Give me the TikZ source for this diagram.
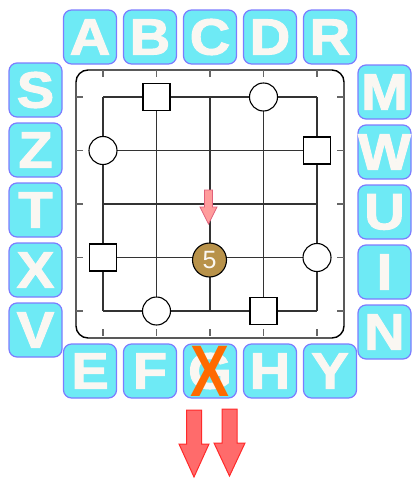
\documentclass[tikz,border=0pt]{standalone}
\usepackage{fontspec}
\setmainfont{Liberation Sans}
\newfontfamily\tilefont{Liberation Sans Bold}[FakeStretch=1.1, FakeBold=2]
\newfontfamily\crossfont{Liberation Sans Bold}[FakeStretch=0.8]
\usepackage{tikz}
\usetikzlibrary{positioning}
\definecolor{tilecyan}{HTML}{6EEAF5}
\definecolor{tileedge}{HTML}{7C7CFF}
\definecolor{tileink}{HTML}{FAF7F2}
\definecolor{pawnbrown}{HTML}{B8924A}
\definecolor{hintpink}{HTML}{FF9C9C}
\definecolor{hintedge}{HTML}{E0607A}
\definecolor{exitred}{HTML}{FF6B6B}
\definecolor{exitedge}{HTML}{FF2A2A}
\definecolor{crossorange}{HTML}{FF6A00}

\begin{document}
\begin{tikzpicture}[x=1pt, y=-1pt,
        tile/.style={rectangle, rounded corners=8pt, draw=tileedge, line width=1.2pt, fill=tilecyan, minimum width=53pt, minimum height=54pt, inner sep=0pt, text=tileink, font=\tilefont\fontsize{51}{51}\selectfont},
        gridline/.style={draw=black!80, line width=1.2pt},
        tickmark/.style={draw=black!60, line width=1.2pt},
        sqpiece/.style={rectangle, draw=black, line width=1.1pt, fill=white, minimum size=27pt, inner sep=0pt},
        cipiece/.style={circle, draw=black, line width=1.1pt, fill=white, minimum size=28pt, inner sep=0pt},
        pawn/.style={circle, draw=black, line width=1.1pt, fill=pawnbrown, minimum size=34pt, inner sep=0pt, text=tileink, font=\fontsize{25}{25}\selectfont},
        exit/.style={fill=exitred, draw=exitedge, line width=1pt}
    ]
        \useasboundingbox (0,0) rectangle (412,479);

        % Letter tiles
        \foreach \l [count=\i from 0] in {A,B,C,D,R}
            \node[tile] (top\l) at (90+60*\i, 37) {\l};
        \foreach \l [count=\i from 0] in {E,F,G,H,Y}
            \node[tile] (bot\l) at (90+60*\i, 371) {\l};
        \foreach \l [count=\i from 0] in {S,Z,T,X,V}
            \node[tile] (left\l) at (35.5, 90+60*\i) {\l};
        \foreach \l [count=\i from 0] in {M,W,U,I,N}
            \node[tile] (right\l) at (384.5, 92+60*\i) {\l};

        % Board
        \node[draw, line width=1.4pt, rounded corners=12pt, minimum size=268pt, inner sep=0pt] (board) at (210,204) {};
        \foreach \k in {0,...,4} {
            \draw[gridline] (103+53.5*\k, 97) -- (103+53.5*\k, 311);
            \draw[gridline] (103, 97+53.5*\k) -- (317, 97+53.5*\k);
            \draw[tickmark] (103+53.5*\k, 70) -- +(0,7);
            \draw[tickmark] (103+53.5*\k, 329) -- +(0,7);
            \draw[tickmark] (76, 97+53.5*\k) -- +(7,0);
            \draw[tickmark] (344, 97+53.5*\k) -- +(-7,0);
        }

        % Pieces
        \node[sqpiece] (sqB) at (156.5, 97) {};
        \node[cipiece] (ciD) at (263.5, 97) {};
        \node[cipiece] (ciZ) at (103, 150.5) {};
        \node[sqpiece] (sqW) at (317, 150.5) {};
        \node[sqpiece] (sqX) at (103, 257.5) {};
        \node[cipiece] (ciI) at (317, 257.5) {};
        \node[cipiece] (ciF) at (156.5, 311) {};
        \node[sqpiece] (sqH) at (263.5, 311) {};
        \node[pawn] (pawn) at (209.5, 260) {5};

        % Hint arrow
        \draw[fill=hintpink, draw=hintedge, line width=0.8pt] (204.5,190) -- (212.5,190) -- (212.5,207) -- (217,207) -- (208.5,224) -- (200,207) -- (204.5,207) -- cycle;

        % Blocked exit
        \node[inner sep=0pt, text=crossorange, font=\crossfont\fontsize{73}{73}\selectfont] (cross) at (botG) {X};

        % Exit arrows
        \draw[exit] (186.5,410) -- (201.5,410) -- (201.5,444) -- (209,444) -- (194,477) -- (179,444) -- (186.5,444) -- cycle;
        \draw[exit] (222,409) -- (237,409) -- (237,443) -- (245,443) -- (229.5,476) -- (214,443) -- (222,443) -- cycle;
    \end{tikzpicture}
\end{document}
